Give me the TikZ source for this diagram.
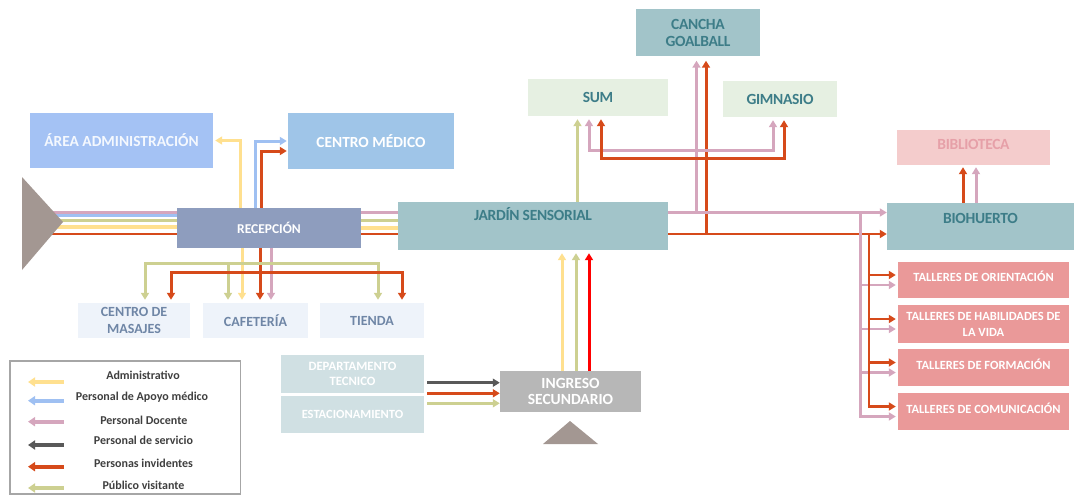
\documentclass[tikz,border=0pt]{standalone}
\usepackage{fontspec}
\setmainfont{Carlito}[BoldFont={Carlito Bold}]
\newfontfamily\condfont{Carlito}[LetterSpace=-2,BoldFont={Carlito Bold}]
\usetikzlibrary{arrows.meta,calc}
\definecolor{cY}{HTML}{FFE08F}
\definecolor{cB}{HTML}{9FC0F2}
\definecolor{cP}{HTML}{D5A6BD}
\definecolor{cS}{HTML}{595959}
\definecolor{cR}{RGB}{214,74,26}
\definecolor{cG}{RGB}{205,208,145}
\definecolor{cRR}{HTML}{FF0000}
\definecolor{fAdm}{HTML}{A4C2F4}
\definecolor{fMed}{HTML}{9FC5E8}
\definecolor{fRec}{HTML}{8E9DBE}
\definecolor{fTeal}{HTML}{A2C4C9}
\definecolor{fGreen}{HTML}{E6F0E2}
\definecolor{fBib}{HTML}{F4CCCC}
\definecolor{fTal}{HTML}{EA9999}
\definecolor{fLight}{HTML}{EEF3FA}
\definecolor{fDep}{HTML}{D0E0E3}
\definecolor{fIng}{HTML}{B7B7B7}
\definecolor{fTri}{HTML}{A39792}
\definecolor{tTeal}{HTML}{3D7D88}
\definecolor{tSlate}{HTML}{6F86A6}
\definecolor{tBib}{HTML}{E6A0A8}
\definecolor{tLeg}{HTML}{3F3F3F}
\tikzset{
  box/.style={rectangle, inner sep=0pt, align=center},
  tealtxt/.style={text=tTeal, font=\condfont\bfseries\fontsize{15.5}{17}\selectfont},
  taltxt/.style={text=white, font=\bfseries\fontsize{12.5}{16}\selectfont},
  shoptxt/.style={text=tSlate, font=\bfseries\fontsize{14}{16.7}\selectfont},
  ln/.style={line width=3pt},
  tip/.style={-{Triangle[length=7pt,width=8pt]}},
  ly/.style={ln, cY},
  lb/.style={ln, cB},
  lp/.style={ln, cP},
  ls/.style={ln, cS},
  lr/.style={ln, cR},
  lg/.style={ln, cG},
  lrr/.style={ln, cRR},
  legarr/.style={line width=4pt, {Triangle[length=7pt,width=9pt]}-},
  legtxt/.style={font=\bfseries\fontsize{12}{14}\selectfont, text=tLeg},
}
\begin{document}
\begin{tikzpicture}[x=1pt,y=-1pt]
\useasboundingbox (0,0) rectangle (1074,495);
% ---------- nodes ----------
\node[box, fill=fAdm, minimum width=183, minimum height=55, text=white!88!fAdm, font=\bfseries\fontsize{15.4}{17}\selectfont] (adm) at (121.5,140.5) {ÁREA ADMINISTRACIÓN};
\node[box, fill=fMed, minimum width=166, minimum height=56, text=white, font=\bfseries\fontsize{15.4}{17}\selectfont] (med) at (371,141) {CENTRO MÉDICO};
\node[box, fill=fRec, minimum width=184, minimum height=40, text=white, font=\bfseries\fontsize{13.5}{15}\selectfont] (rec) at (269,228) {RECEPCIÓN};
\node[box, fill=fTeal, minimum width=270, minimum height=48, tealtxt, text height=10pt, text depth=21pt] (jar) at (533,226) {JARDÍN SENSORIAL};
\node[box, fill=fTeal, minimum width=124, minimum height=47, tealtxt] (can) at (698,33) {CANCHA\\GOALBALL};
\node[box, fill=fGreen, minimum width=140, minimum height=37, tealtxt] (sum) at (598,97.5) {SUM};
\node[box, fill=fGreen, minimum width=114, minimum height=36, tealtxt] (gim) at (780,99) {GIMNASIO};
\node[box, fill=fBib, minimum width=153, minimum height=35, tealtxt, text=tBib, text height=9pt, text depth=6pt] (bib) at (973.5,147.5) {BIBLIOTECA};
\node[box, fill=fTeal, minimum width=187, minimum height=47, tealtxt, text height=10pt, text depth=17pt] (bio) at (980.5,226.5) {BIOHUERTO};
\node[box, fill=fTal, minimum width=171, minimum height=36, taltxt, text height=9pt, text depth=6pt] (t1) at (983.5,280) {TALLERES DE ORIENTACIÓN};
\node[box, fill=fTal, minimum width=171, minimum height=37.5, taltxt] (t2) at (983.5,324) {TALLERES DE HABILIDADES DE\\LA VIDA};
\node[box, fill=fTal, minimum width=171, minimum height=37, taltxt, text height=9pt, text depth=6pt] (t3) at (983.5,367.5) {TALLERES DE FORMACIÓN};
\node[box, fill=fTal, minimum width=171, minimum height=37, taltxt, text height=9pt, text depth=6pt] (t4) at (983.5,411.5) {TALLERES DE COMUNICACIÓN};
\node[box, fill=fLight, minimum width=112, minimum height=35, shoptxt] (mas) at (134,320.5) {CENTRO DE\\MASAJES};
\node[box, fill=fLight, minimum width=105, minimum height=35, shoptxt] (caf) at (255.5,320.5) {CAFETERÍA};
\node[box, fill=fLight, minimum width=104, minimum height=35, shoptxt] (tie) at (372,320.5) {TIENDA};
\node[box, fill=fDep, minimum width=143, minimum height=38, text=white, font=\bfseries\fontsize{12.7}{15.7}\selectfont] (dep) at (352.5,374) {DEPARTAMENTO\\TECNICO};
\node[box, fill=fDep, minimum width=143, minimum height=37, text=white, font=\bfseries\fontsize{12.5}{15}\selectfont] (est) at (352.5,414.5) {ESTACIONAMIENTO};
\node[box, fill=fIng, minimum width=141, minimum height=41, text=white, font=\bfseries\fontsize{15.5}{16.7}\selectfont] (ing) at (570.5,391.5) {INGRESO\\SECUNDARIO};
% ---------- entrance bundle (left) ----------
\coordinate (src) at (40,228);
\draw[lp] (src |- 0,212.5) -- (rec.west |- 0,212.5);
\draw[lb] (src |- 0,215.5) -- (rec.west |- 0,215.5);
\draw[lg] (src |- 0,220.5) -- (rec.west |- 0,220.5);
\draw[ly, line width=4.5pt] (src |- 0,227) -- (rec.west |- 0,227);
\draw[lr, line width=2.5pt] (src |- 0,234) -- (rec.west |- 0,234);
\fill[fTri] (22,177) -- (63,222) -- (22,270) -- cycle;
% ---------- recepcion -> jardin ----------
\draw[lp] (rec.east |- 0,212.7) -- (jar.west |- 0,212.7);
\draw[lg] (rec.east |- 0,220.7) -- (jar.west |- 0,220.7);
\draw[ly, line width=4pt] (rec.east |- 0,227.5) -- (jar.west |- 0,227.5);
\draw[lr, line width=2.5pt] (rec.east |- 0,234) -- (jar.west |- 0,234);
% ---------- recepcion up ----------
\draw[ly, tip, shorten >=2pt] (rec.north -| 240.5,0) |- (adm.east);
\draw[lb, tip, shorten >=1pt] (rec.north -| 255,0) |- (med.west);
\draw[lr, tip, shorten >=1pt] (rec.north -| 261.5,0) |- ($(med.west)+(0,10)$);
% ---------- recepcion down ----------
\draw[ly, tip, shorten >=3pt] (rec.south -| 242,0) -- (caf.north -| 242,0);
\draw[lr, tip, shorten >=3pt] (rec.south -| 260,0) -- (caf.north -| 260,0);
\draw[lp, tip, shorten >=3pt] (rec.south -| 271,0) -- (caf.north -| 271,0);
\coordinate (gbus) at (228,263.5);
\draw[lg, tip, shorten >=3pt] (gbus) -| (mas.north -| 145,0);
\draw[lg, tip, shorten >=3pt] (gbus) -| (tie.north -| 378,0);
\draw[lg, tip, shorten >=3pt] (gbus) -- (caf.north -| 228,0);
\coordinate (rbus) at (260,272);
\draw[lr, tip, shorten >=3pt] (rbus) -| (mas.north -| 171,0);
\draw[lr, tip, shorten >=3pt] (rbus) -| (tie.north -| 402,0);
% ---------- jardin up ----------
\draw[lg, tip, shorten >=3pt] (jar.north -| 577.5,0) -- (sum.south -| 577.5,0);
\coordinate (pj) at (696.5,212.5);
\coordinate (rj) at (706,234);
\draw[lp, tip, shorten >=4pt] (pj) -- (can.south -| pj);
\draw[lr, tip, shorten >=4pt] (rj) -- (can.south -| rj);
\draw[lp, tip, shorten >=3pt] (pj |- 0,150) -| (sum.south -| 589,0);
\draw[lp, tip, shorten >=3pt] (pj |- 0,150) -| (gim.south -| 773,0);
\draw[lr, tip, shorten >=3pt] (rj |- 0,158) -| (sum.south -| 601,0);
\draw[lr, tip, shorten >=3pt] (rj |- 0,158) -| (gim.south -| 784,0);
% ---------- jardin -> biohuerto ----------
\draw[lp, tip, line width=2.5pt] (jar.east |- pj) -- (bio.west |- pj);
\draw[lr, tip, line width=2.5pt] (jar.east |- rj) -- (bio.west |- rj);
% ---------- biohuerto -> biblioteca ----------
\draw[lr, tip, shorten >=2pt] (bio.north -| 963,0) -- (bib.south -| 963,0);
\draw[lp, tip, shorten >=2pt] (bio.north -| 976,0) -- (bib.south -| 976,0);
% ---------- talleres ----------
\coordinate (pt) at (860.5,212.5);
\coordinate (rt) at (869,234);
\foreach \t in {t1,t2,t3,t4}{
  \draw[lp, tip, line width=2.5pt, shorten >=2pt] (pt) |- ($(\t.west)+(0,5)$);
  \draw[lr, tip, line width=2.5pt, shorten >=2pt] (rt) |- ($(\t.west)+(0,-5)$);
}
% ---------- ingreso secundario ----------
\draw[ly, tip, shorten >=3pt] (ing.north -| 562,0) -- (jar.south -| 562,0);
\draw[lg, tip, shorten >=3pt] (ing.north -| 576,0) -- (jar.south -| 576,0);
\draw[lrr, tip, shorten >=3pt] (ing.north -| 589,0) -- (jar.south -| 589,0);
\draw[ls, tip, shorten <=3pt] (dep.east |- 0,382.7) -- (ing.west |- 0,382.7);
\draw[lr, tip, shorten <=3pt] (dep.east |- 0,393.3) -- (ing.west |- 0,393.3);
\draw[lg, tip, shorten <=3pt] (est.east |- 0,403.3) -- (ing.west |- 0,403.3);
\fill[fTri] (570,421) -- (598,444) -- (543,444) -- cycle;
% ---------- legend ----------
\draw[draw=gray!70, line width=1.5pt] (10,361) rectangle (240.5,494);
\draw[legarr, cY] (28,382) -- (64,382);
\draw[legarr, cB] (28,400.7) -- (64,400.7);
\draw[legarr, cP] (28,421.7) -- (64,421.7);
\draw[legarr, cS] (28,445) -- (64,445);
\draw[legarr, cR] (28,466.7) -- (64,466.7);
\draw[legarr, cG] (28,488) -- (64,488);
\node[legtxt] (l1) at (143,375.7) {Administrativo};
\node[legtxt] (l2) at (142,397.7) {Personal de Apoyo médico};
\node[legtxt] (l3) at (143.8,420) {Personal Docente};
\node[legtxt] (l4) at (143.5,440.7) {Personal de servicio};
\node[legtxt] (l5) at (143.5,463) {Personas invidentes};
\node[legtxt] (l6) at (143.5,485) {Público visitante};
\end{tikzpicture}
\end{document}
